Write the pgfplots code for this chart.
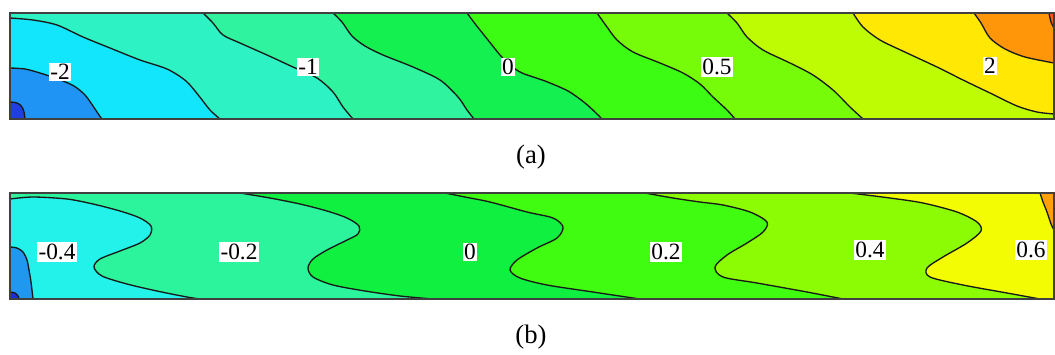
\documentclass[border=0pt]{standalone}
\usepackage{fontspec}
\setmainfont{Liberation Serif}
\usepackage{pgfplots}
\usepackage{pgfplotstable}
\pgfplotsset{compat=1.18}

% ---------- panel (a): contour lines, x right, y down ----------
\pgfplotstableread{
x y
10 102
15 102.5
19 104
22 107
24 112
25 119
}\aLzero
\pgfplotstableread{
x y
10 68
25 69
40 73
58 79
74 86
85 95
93 106
99 115
102 119
}\aLone
\pgfplotstableread{
x y
10 18
33 20
57 25
83 37
110 48
140 60
167 69
186 81
199 96
210 110
220 119
}\aLtwo
\pgfplotstableread{
x y
203 13
213 23
223 35
240 43
267 55
293 67
317 78
333 92
343 107
353 119
}\aLthree
\pgfplotstableread{
x y
333 13
342 22
352 36
365 46
383 55
413 67
440 80
458 97
467 110
474 119
}\aLfour
\pgfplotstableread{
x y
467 13
476 25
488 40
500 55
510 65
522 73
545 81
568 91
585 103
596 113
602 119
}\aLfive
\pgfplotstableread{
x y
597 13
607 27
617 40
633 52
660 63
683 73
700 84
713 97
727 110
735 119
}\aLsix
\pgfplotstableread{
x y
727 13
737 23
747 37
763 50
790 63
813 75
833 90
850 107
863 119
}\aLseven
\pgfplotstableread{
x y
853 13
863 27
880 40
907 53
937 67
963 80
990 93
1017 106
1037 112
1054 114
}\aLeight
\pgfplotstableread{
x y
974 13
981 23
990 38
1005 49
1025 57
1054 63
}\aLnine
\pgfplotstableread{
x y
1049 13
1051 22
1054 28
}\aLten

% ---------- panel (b) ----------
\pgfplotstableread{
x y
10 292
15 293
18 296
19 299
}\bLzero
\pgfplotstableread{
x y
10 247
17 248
23 252
27 260
29 270
31 282
33 299
}\bLone
\pgfplotstableread{
x y
10 199
33 197
67 199
93 204
120 211
140 218
151 226
150 235
140 243
120 251
100 259
94 267
102 276
127 284
157 291
187 297
200 299
}\bLtwo
\pgfplotstableread{
x y
240 193
270 198
300 204
327 211
347 218
359 226
358 234
345 241
327 250
313 259
308 268
313 277
333 285
365 291
400 296
433 299
}\bLthree
\pgfplotstableread{
x y
445 193
465 197
490 202
527 212
553 218
563 227
557 238
537 248
517 260
510 270
520 278
547 285
593 292
633 298
640 299
}\bLfour
\pgfplotstableread{
x y
645 193
673 198
700 202
723 205
750 212
767 222
763 232
747 243
727 255
715 267
723 277
757 283
807 292
843 299
}\bLfive
\pgfplotstableread{
x y
850 193
890 198
923 203
957 212
977 222
981 231
967 243
943 257
927 268
930 277
963 285
1007 293
1040 299
}\bLsix
\pgfplotstableread{
x y
1040 193
1043 202
1047 212
1051 224
1054 230
}\bLseven

% colour levels
\definecolor{cA0}{HTML}{1F3FE0}
\definecolor{cA1}{HTML}{2094F4}
\definecolor{cA2}{HTML}{12E6FC}
\definecolor{cA3}{HTML}{2CF2C4}
\definecolor{cA4}{HTML}{30F3A0}
\definecolor{cA5}{HTML}{14F050}
\definecolor{cA6}{HTML}{3CFC14}
\definecolor{cA7}{HTML}{76FC08}
\definecolor{cA8}{HTML}{BEFC04}
\definecolor{cA9}{HTML}{FFE804}
\definecolor{cA10}{HTML}{FF960A}
\definecolor{cA11}{HTML}{FF5A1E}

\definecolor{cB0}{HTML}{1830D8}
\definecolor{cB1}{HTML}{2098F0}
\definecolor{cB2}{HTML}{22F2EA}
\definecolor{cB3}{HTML}{2CF49C}
\definecolor{cB4}{HTML}{10F040}
\definecolor{cB5}{HTML}{40FC10}
\definecolor{cB6}{HTML}{8CFC04}
\definecolor{cB7}{HTML}{F4FC04}
\definecolor{cB8}{HTML}{FFA008}

\pgfplotsset{
  panel/.style={
    scale only axis, width=783pt, height=79.5pt,
    xmin=10, xmax=1054, y dir=reverse,
    ticks=none, anchor=north west,
    axis line style={draw=black!75, line width=1.1pt},
    axis on top,
  },
  band/.style={draw=none, fill=#1, smooth, forget plot},
  iso/.style={draw=black!90, line width=1pt, smooth, forget plot},
}
\tikzset{lab/.style={fill=white, inner sep=1.2pt, font=\fontsize{17.5}{17.5}\selectfont}}

\begin{document}
\begin{tikzpicture}
\path[use as bounding box] (0,0) rectangle (791.25pt,-265.5pt);

% ---------------- (a) ----------------
\begin{axis}[panel, at={(7.5pt,-9.75pt)}, ymin=13, ymax=119]
  \addplot[band=cA1] coordinates {(10,13) (1054,13) (1054,119) (10,119)} -- cycle;
  \addplot[band=cA0] table {\aLzero} -- (axis cs:10,119) -- cycle;
  \addplot[band=cA2] table {\aLone} -- (axis cs:1054,119) -- (axis cs:1054,13) -- (axis cs:10,13) -- cycle;
  \addplot[band=cA3] table {\aLtwo} -- (axis cs:1054,119) -- (axis cs:1054,13) -- (axis cs:10,13) -- cycle;
  \addplot[band=cA4] table {\aLthree} -- (axis cs:1054,119) -- (axis cs:1054,13) -- cycle;
  \addplot[band=cA5] table {\aLfour} -- (axis cs:1054,119) -- (axis cs:1054,13) -- cycle;
  \addplot[band=cA6] table {\aLfive} -- (axis cs:1054,119) -- (axis cs:1054,13) -- cycle;
  \addplot[band=cA7] table {\aLsix} -- (axis cs:1054,119) -- (axis cs:1054,13) -- cycle;
  \addplot[band=cA8] table {\aLseven} -- (axis cs:1054,119) -- (axis cs:1054,13) -- cycle;
  \addplot[band=cA9] table {\aLeight} -- (axis cs:1054,13) -- cycle;
  \addplot[band=cA10] table {\aLnine} -- (axis cs:1054,13) -- cycle;
  \addplot[band=cA11] table {\aLten} -- (axis cs:1054,13) -- cycle;

  % iso-lines
  \addplot[iso] table {\aLzero};
  \addplot[iso] table {\aLone};
  \addplot[iso] table {\aLtwo};
  \addplot[iso] table {\aLthree};
  \addplot[iso] table {\aLfour};
  \addplot[iso] table {\aLfive};
  \addplot[iso] table {\aLsix};
  \addplot[iso] table {\aLseven};
  \addplot[iso] table {\aLeight};
  \addplot[iso] table {\aLnine};
  \addplot[iso] table {\aLten};

  \node[lab] at (axis cs:60,72) {-2};
  \node[lab] at (axis cs:308,67) {-1};
  \node[lab] at (axis cs:508,67) {0};
  \node[lab] at (axis cs:717,67) {0.5};
  \node[lab] at (axis cs:990,66) {2};
\end{axis}

% ---------------- (b) ----------------
\begin{axis}[panel, at={(7.5pt,-144.75pt)}, ymin=193, ymax=299]
  \addplot[band=cB2] coordinates {(10,193) (1054,193) (1054,299) (10,299)} -- cycle;
  \addplot[band=cB1] table {\bLone} -- (axis cs:10,299) -- cycle;
  \addplot[band=cB0] table {\bLzero} -- (axis cs:10,299) -- cycle;
  \addplot[band=cB3] table {\bLtwo} -- (axis cs:1054,299) -- (axis cs:1054,193) -- (axis cs:10,193) -- cycle;
  \addplot[band=cB4] table {\bLthree} -- (axis cs:1054,299) -- (axis cs:1054,193) -- cycle;
  \addplot[band=cB5] table {\bLfour} -- (axis cs:1054,299) -- (axis cs:1054,193) -- cycle;
  \addplot[band=cB6] table {\bLfive} -- (axis cs:1054,299) -- (axis cs:1054,193) -- cycle;
  \addplot[band=cB7] table {\bLsix} -- (axis cs:1054,299) -- (axis cs:1054,193) -- cycle;
  \addplot[band=cB8] table {\bLseven} -- (axis cs:1054,193) -- cycle;

  % iso-lines
  \addplot[iso] table {\bLzero};
  \addplot[iso] table {\bLone};
  \addplot[iso] table {\bLtwo};
  \addplot[iso] table {\bLthree};
  \addplot[iso] table {\bLfour};
  \addplot[iso] table {\bLfive};
  \addplot[iso] table {\bLsix};
  \addplot[iso] table {\bLseven};

  \node[lab] at (axis cs:57,252) {-0.4};
  \node[lab] at (axis cs:239,252) {-0.2};
  \node[lab] at (axis cs:470,252) {0};
  \node[lab] at (axis cs:666,252) {0.2};
  \node[lab] at (axis cs:870,250) {0.4};
  \node[lab] at (axis cs:1031,250) {0.6};
\end{axis}

\node[font=\fontsize{20}{20}\selectfont] at (398.25pt,-118pt) {(a)};
\node[font=\fontsize{20}{20}\selectfont] at (398.25pt,-253pt) {(b)};
\end{tikzpicture}
\end{document}
